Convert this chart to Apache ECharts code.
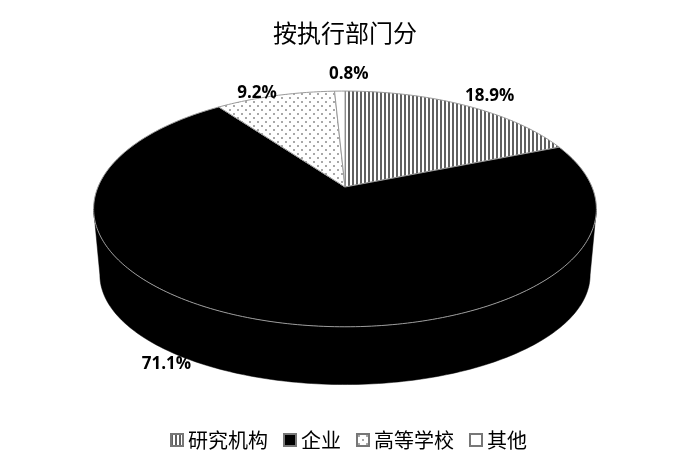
<!DOCTYPE html>
<html><head><meta charset="utf-8">
<style>html,body{margin:0;padding:0;background:#fff}#c{width:700px;height:473px}</style>
<script src="https://cdn.jsdelivr.net/npm/echarts@6/dist/echarts.min.js"></script>
</head><body><div id="c"></div>
<script>
const titleText = '按执行部门分';
const categories = ['研究机构', '企业', '高等学校', '其他'];
const values = [18.9, 71.1, 9.2, 0.8];
const labels = ['18.9%', '71.1%', '9.2%', '0.8%'];

// label nudges from the slice's outer edge, in px
const labelOffsets = [[25, -9], [2, 15], [-18, -3], [9, -17]];
const labelAnchorAngles = [null, 220, null, null];

// perspective disc model (angle measured clockwise from 12 o'clock)
const cx = 345, apexY = 187, A = 247, B = 79, K = -0.186;
const lowerScaleX = 0.975, lowerScaleY = 0.93, ringY = 209, lowerShift = 66;
const rad = d => d * Math.PI / 180;
function topPt(deg, r = 1) {
  const X = r * Math.sin(rad(deg)), Y = -r * Math.cos(rad(deg)), w = 1 + K * Y;
  return [cx + A * X / w, (B * Y + apexY) / w];
}
function lowPt(deg) {
  const p = topPt(deg);
  return [cx + (p[0] - cx) * lowerScaleX, ringY + lowerShift + (p[1] - ringY) * lowerScaleY];
}
const visFrom = 100.7, visTo = 259.3;

function patternCanvas(kind) {
  const c = document.createElement('canvas');
  const g = c.getContext('2d');
  if (kind === 'stripes') {
    c.width = 4; c.height = 4;
    g.fillStyle = '#fff'; g.fillRect(0, 0, 4, 4);
    g.fillStyle = '#606060';
    g.fillRect(0, 0, 2, 4);
  } else if (kind === 'dots') {
    c.width = 8; c.height = 8;
    g.fillStyle = '#fff'; g.fillRect(0, 0, 8, 8);
    g.fillStyle = '#a8a8a8';
    g.fillRect(1, 1, 2, 2); g.fillRect(5, 5, 2, 2);
  }
  return c;
}
const fills = [
  { image: patternCanvas('stripes'), repeat: 'repeat' },
  '#000000',
  { image: patternCanvas('dots'), repeat: 'repeat' },
  '#ffffff'
];
const total = values.reduce((a, b) => a + b, 0);
const starts = [];
values.reduce((s, v, i) => (starts[i] = s, s + v), 0);

function arc(from, to, fn) {
  const pts = [];
  const n = Math.max(2, Math.ceil(Math.abs(to - from)));
  for (let i = 0; i <= n; i++) pts.push(fn(from + (to - from) * i / n));
  return pts;
}
const textFont = '"Open Sans", "Liberation Sans", sans-serif';

const series = categories.map((name, i) => ({
  type: 'custom',
  name,
  coordinateSystem: 'none',
  silent: true,
  animation: false,
  itemStyle: { color: fills[i] },
  data: [[values[i]]],
  renderItem: (params, api) => {
    const a0 = starts[i] / total * 360;
    const a1 = a0 + api.value(0) / total * 360;
    const children = [];
    const vFrom = Math.max(a0, visFrom), vTo = Math.min(a1, visTo);
    if (vTo > vFrom) {
      const pts = arc(vFrom, vTo, topPt).concat(arc(vTo, vFrom, lowPt));
      children.push({ type: 'polygon', z2: 1, shape: { points: pts }, style: { fill: fills[i], stroke: fills[i], lineWidth: 0.5 } });
    }
    const face = [topPt(0, 0)].concat(arc(a0, a1, topPt));
    children.push({ type: 'polygon', z2: 2, shape: { points: face }, style: { fill: fills[i], stroke: '#9a9a9a', lineWidth: 1 } });
    const anchorAngle = labelAnchorAngles[i] === null ? (a0 + a1) / 2 : labelAnchorAngles[i];
    const anchor = labelAnchorAngles[i] === null ? topPt(anchorAngle) : lowPt(anchorAngle);
    const [dx, dy] = labelOffsets[i];
    children.push({
      type: 'text', z2: 50,
      style: { x: anchor[0] + dx, y: anchor[1] + dy, text: labels[i], fill: '#000', font: 'bold 17px ' + textFont, align: 'center', verticalAlign: 'middle' }
    });
    return { type: 'group', children };
  }
}));

const chart = echarts.init(document.getElementById('c'), null, { renderer: 'canvas' });
chart.setOption({
  animation: false,
  backgroundColor: '#fff',
  title: {
    text: titleText, left: 268, top: 16,
    textStyle: { fontFamily: '"Noto Sans CJK SC"', fontSize: 24, fontWeight: 'normal', color: '#000' }
  },
  legend: {
    left: 165, top: 425, itemWidth: 12, itemHeight: 12, itemGap: 15,
    data: categories.map((name, i) => ({
      name, icon: 'rect',
      itemStyle: { color: fills[i], borderColor: '#777', borderWidth: 2 }
    })),
    textStyle: { fontFamily: '"Noto Sans CJK SC"', fontSize: 20, color: '#000' }
  },
  series
});
</script></body></html>
